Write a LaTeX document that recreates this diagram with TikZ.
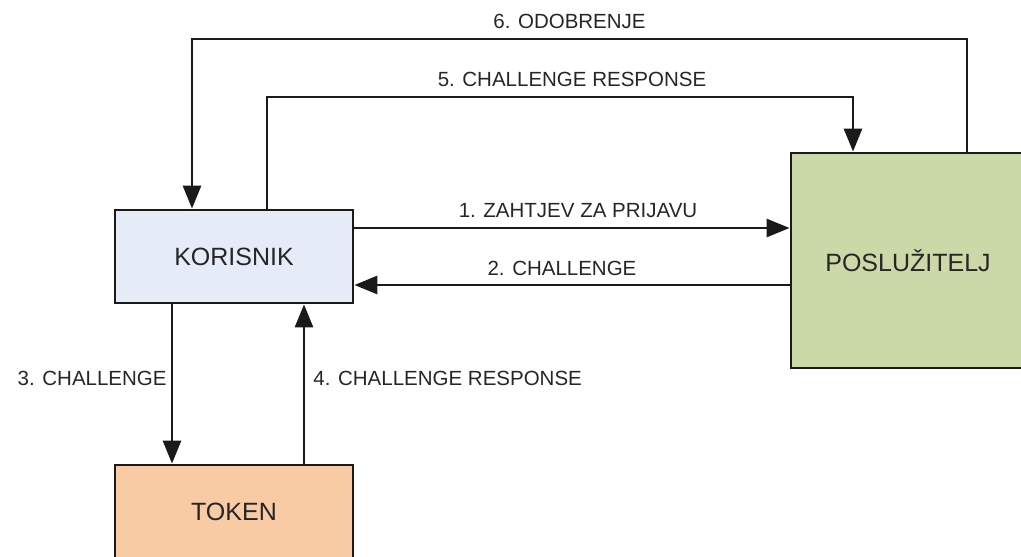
\documentclass[tikz,border=0pt]{standalone}
\usepackage{fontspec}
\setmainfont{Liberation Sans}
\usepackage{tikz}
\usetikzlibrary{arrows.meta,positioning,calc}
\definecolor{korfill}{HTML}{E5ECF7}
\definecolor{srvfill}{HTML}{CBD9A9}
\definecolor{tokfill}{HTML}{F8CBA5}
\definecolor{edge}{HTML}{1A1A1A}
\definecolor{txt}{HTML}{262626}
\tikzset{
  unitbox/.style={
    rectangle, draw=edge, fill=#1, line width=2.8pt,
    minimum width=238pt, minimum height=93pt,
    font=\fontsize{25}{30}\selectfont, text=txt, align=center,
    inner sep=0pt
  },
  unitbox/.default=korfill,
  flow/.style={
    -{Triangle[length=23pt,width=18pt]}, line width=2.8pt, color=edge
  },
  msg/.style={font=\fontsize{20.5}{24}\selectfont, text=txt, inner sep=4pt},
}
\begin{document}
\begin{tikzpicture}[x=1pt, y=-1pt]
  \useasboundingbox (0,0) rectangle (1021,557);
  \node[unitbox=korfill] (korisnik) at (234,256.5) {KORISNIK};
  \node[unitbox=srvfill, minimum width=234pt, minimum height=215pt] (posluzitelj) at (908,260.5) {POSLUŽITELJ};
  \node[unitbox=tokfill, minimum height=94pt] (token) at (234,512) {TOKEN};
  \coordinate (lvl6) at (0,39);
  \coordinate (lvl5) at (0,97);
  % zahtjev i challenge
  \draw[flow] ([yshift=28.5pt]korisnik.east) -- ([yshift=28.5pt]korisnik.east -| posluzitelj.west)
    node[msg, midway, above, xshift=6pt, yshift=5pt] {1. ZAHTJEV ZA PRIJAVU};
  \draw[flow] ([yshift=-28.5pt]korisnik.east -| posluzitelj.west) -- ([yshift=-28.5pt]korisnik.east)
    node[msg, midway, above, xshift=-10pt, yshift=4pt] {2. CHALLENGE};
  % token
  \draw[flow] ([xshift=-62pt]korisnik.south) -- ([xshift=-62pt]token.north)
    node[msg, midway, left, xshift=0pt, yshift=6pt] {3. CHALLENGE};
  \draw[flow] ([xshift=70pt]token.north) -- ([xshift=70pt]korisnik.south)
    node[msg, midway, right, xshift=4pt, yshift=6pt] {4. CHALLENGE RESPONSE};
  % gornje veze
  \draw[flow] ([xshift=33pt]korisnik.north) |- ([xshift=-55pt]posluzitelj.north |- lvl5)
    node[msg, pos=0.75, above, xshift=12pt, yshift=5pt] {5. CHALLENGE RESPONSE}
    -- ([xshift=-55pt]posluzitelj.north);
  \draw[flow] ([xshift=59pt]posluzitelj.north) |- ([xshift=-42pt]korisnik.north |- lvl6)
    node[msg, pos=0.75, above, xshift=-10pt, yshift=5pt] {6. ODOBRENJE}
    -- ([xshift=-42pt]korisnik.north);
\end{tikzpicture}
\end{document}
